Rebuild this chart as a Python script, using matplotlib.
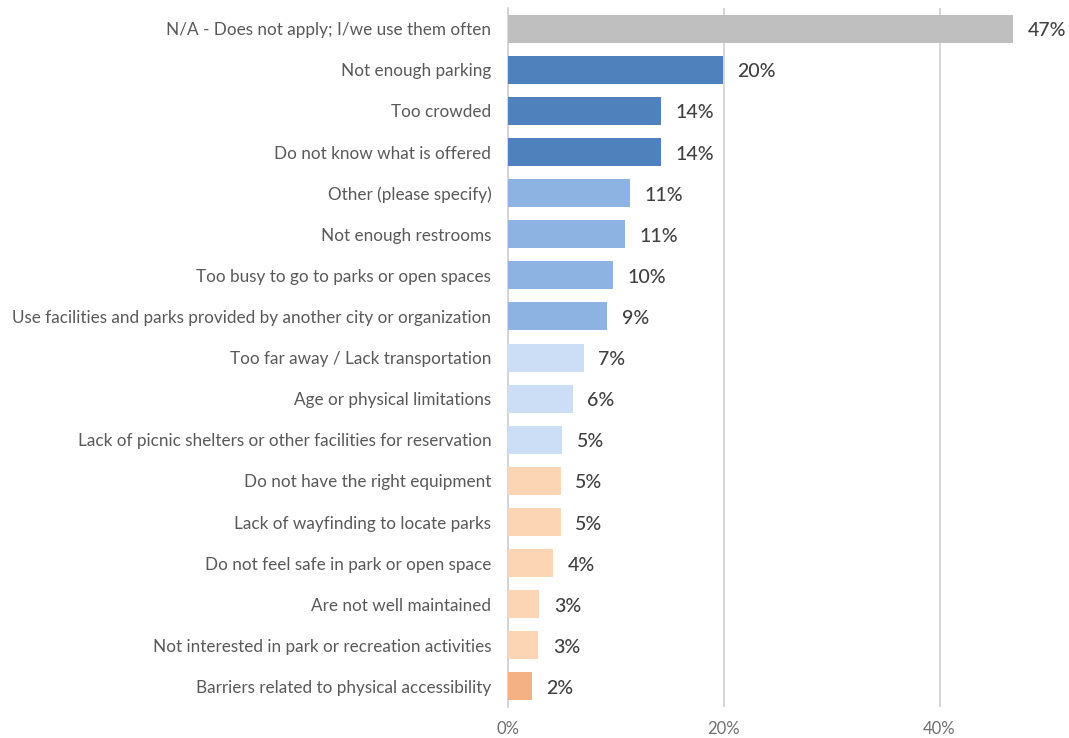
import matplotlib.pyplot as plt
from matplotlib.ticker import FuncFormatter

plt.rcParams['font.family'] = ['Lato', 'DejaVu Sans']

reasons = [
    "N/A - Does not apply; I/we use them often",
    "Not enough parking",
    "Too crowded",
    "Do not know what is offered",
    "Other (please specify)",
    "Not enough restrooms",
    "Too busy to go to parks or open spaces",
    "Use facilities and parks provided by another city or organization",
    "Too far away / Lack transportation",
    "Age or physical limitations",
    "Lack of picnic shelters or other facilities for reservation",
    "Do not have the right equipment",
    "Lack of wayfinding to locate parks",
    "Do not feel safe in park or open space",
    "Are not well maintained",
    "Not interested in park or recreation activities",
    "Barriers related to physical accessibility",
]
pct = [46.8, 19.9, 14.2, 14.2, 11.3, 10.8, 9.7, 9.2, 7.0, 6.0, 5.0, 4.9, 4.9, 4.2, 2.9, 2.8, 2.2]
colors = ["#BFBFBF"] + ["#4F81BD"] * 3 + ["#8DB3E2"] * 4 + ["#CCDDF6"] * 3 + ["#FCD5B5"] * 5 + ["#F4B183"]

fig = plt.figure(figsize=(10.69, 7.38), dpi=100)
ax = fig.add_axes([0.4752, 0.042, 0.5248, 0.947])

y = list(range(len(reasons)))
ax.barh(y, pct, height=0.68, color=colors, zorder=3)
ax.set_ylim(len(reasons) - 0.5, -0.5)
ax.set_xlim(0, 52)

# percentage labels just past the end of each bar
for yi, v in zip(y, pct):
    ax.text(v + 1.35, yi + 0.05, f"{v:.0f}%", va="center", ha="left",
            fontsize=14, color="#404040", fontweight="medium")

ax.set_yticks(y)
ax.set_yticklabels(reasons, fontsize=12.35, color="#595959")
ax.tick_params(axis="y", length=0, pad=12)

ax.set_xticks([0, 20, 40])
ax.xaxis.set_major_formatter(FuncFormatter(lambda v, p: f"{v:.0f}%"))
ax.tick_params(axis="x", length=0, labelsize=12, labelcolor="#6F6F6F", pad=10)
ax.grid(axis="x", color="#D0D0D0", linewidth=1.2, zorder=0)

for side in ["top", "right", "bottom"]:
    ax.spines[side].set_visible(False)
ax.spines["left"].set_color("#D0D0D0")
ax.spines["left"].set_linewidth(1.2)

fig.savefig("out.png", dpi=100)
